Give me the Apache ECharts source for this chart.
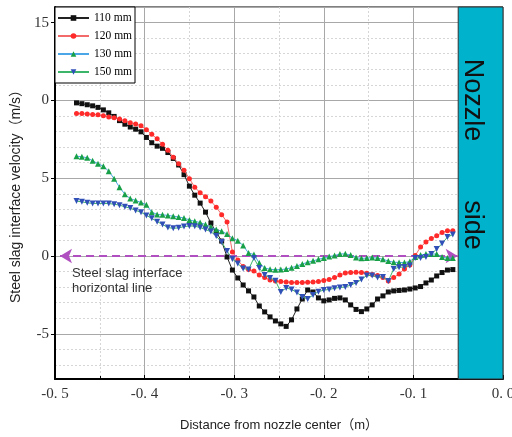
<!DOCTYPE html>
<html>
<head>
<meta charset="utf-8">
<script src="https://cdn.jsdelivr.net/npm/echarts@6/dist/echarts.min.js"></script>
<style>
  html, body { margin: 0; padding: 0; background: #fff; }
  #chart { width: 512px; height: 437px; }
</style>
</head>
<body>
<div id="chart"></div>
<script>
// Sampling positions along the interface (m, negative = away from nozzle)
const distance = [
  -0.476, -0.470, -0.464, -0.458, -0.452, -0.446, -0.440, -0.434, -0.428, -0.422,
  -0.416, -0.410, -0.404, -0.398, -0.392, -0.386, -0.380, -0.374, -0.368, -0.362,
  -0.356, -0.350, -0.344, -0.338, -0.332, -0.326, -0.320, -0.314, -0.308, -0.302,
  -0.296, -0.290, -0.284, -0.278, -0.272, -0.266, -0.260, -0.254, -0.248, -0.242,
  -0.236, -0.230, -0.224, -0.218, -0.212, -0.206, -0.200, -0.194, -0.188, -0.182,
  -0.176, -0.170, -0.164, -0.158, -0.152, -0.146, -0.140, -0.134, -0.128, -0.122,
  -0.116, -0.110, -0.104, -0.098, -0.092, -0.086, -0.080, -0.074, -0.068, -0.062,
  -0.056
];

// Interface velocity (m/s) for each immersion depth
const v110 = [
  9.84, 9.79, 9.72, 9.65, 9.55, 9.39, 9.2, 8.97, 8.7, 8.47,
  8.29, 8.15, 7.98, 7.62, 7.28, 7.06, 6.92, 6.65, 6.27, 5.85,
  5.23, 4.49, 3.91, 3.4, 2.82, 2.12, 1.54, 0.96, -0.06, -0.9,
  -1.41, -1.86, -2.24, -2.63, -3.21, -3.59, -3.91, -4.17, -4.36, -4.52,
  -4.1, -3.4, -2.76, -2.18, -2.31, -2.69, -2.88, -2.82, -2.72, -2.69,
  -2.82, -3.14, -3.43, -3.57, -3.4, -3.14, -2.76, -2.56, -2.31, -2.24,
  -2.21, -2.18, -2.12, -2.05, -1.96, -1.73, -1.54, -1.28, -1.06, -0.9,
  -0.87
];
const v120 = [
  9.15, 9.15, 9.12, 9.1, 9.07, 9.01, 8.94, 8.88, 8.8, 8.69,
  8.56, 8.49, 8.37, 8.11, 7.82, 7.53, 7.18, 6.79, 6.35, 5.93,
  5.51, 4.97, 4.42, 4.07, 3.81, 3.53, 3.14, 2.66, 2.18, 0.26,
  -0.26, -0.67, -0.87, -0.96, -1.22, -1.38, -1.54, -1.6, -1.63, -1.67,
  -1.7, -1.7, -1.7, -1.69, -1.67, -1.63, -1.57, -1.51, -1.38, -1.22,
  -1.09, -1.06, -1.04, -1.06, -1.11, -1.19, -1.25, -1.38, -1.6, -1.38,
  -1.15, -0.83, -0.58, 0.03, 0.58, 0.9, 1.12, 1.31, 1.51, 1.63,
  1.63
];
const v130 = [
  6.41, 6.38, 6.31, 6.12, 5.93, 5.77, 5.45, 4.97, 4.42, 3.97,
  3.69, 3.57, 3.44, 3.3, 2.82, 2.67, 2.65, 2.61, 2.56, 2.51,
  2.44, 2.32, 2.23, 2.15, 2.02, 1.86, 1.7, 1.6, 1.41, 1.15,
  0.99, 0.67, 0.19, 0.1, -0.45, -0.77, -0.85, -0.88, -0.87, -0.83,
  -0.75, -0.64, -0.51, -0.4, -0.31, -0.21, -0.13, -0.03, 0.03, 0.13,
  0.14, 0.06, -0.1, -0.15, -0.13, -0.1, -0.13, -0.21, -0.32, -0.4,
  -0.41, -0.42, -0.35, -0.06, 0.06, 0.13, 0.13, 0.13, -0.06, -0.13,
  -0.13
];
const v150 = [
  3.53, 3.48, 3.42, 3.38, 3.38, 3.38, 3.37, 3.33, 3.27, 3.16,
  3.08, 2.93, 2.82, 2.61, 2.42, 2.21, 2.03, 1.83, 1.78, 1.81,
  1.89, 1.93, 1.92, 1.83, 1.7, 1.57, 1.28, 0.9, 0.32, -0.19,
  -0.48, -0.8, -0.87, -0.13, -0.77, -1.22, -1.41, -1.58, -2.31, -2.05,
  -2.15, -2.34, -2.63, -2.76, -2.5, -2.29, -2.19, -2.15, -2.07, -2.02,
  -1.99, -1.86, -1.73, -1.51, -1.25, -1.25, -1.38, -1.35, -1.6, -0.83,
  -0.72, -0.71, -0.61, -0.13, -0.13, -0.06, 0.13, 0.45, 0.8, 1.22,
  1.38
];

const seriesNames = ['110 mm', '120 mm', '130 mm', '150 mm'];

// Axis tick labels
const xTickValues = [-0.5, -0.4, -0.3, -0.2, -0.1, 0.0];
const xTickLabels = ['-0. 5', '-0. 4', '-0. 3', '-0. 2', '-0. 1', '0. 0'];
const yTickValues = [-5, 0, 5, 10, 15];
const yTickLabels = ['-5', '0', '5', '0', '15'];

// Interface reference line and nozzle zone
const interfaceLevel = 0;
const interfaceStart = -0.4944;
const interfaceEnd = -0.0506;
const nozzleZone = [-0.05, 0];

const pairs = vals => distance.map((d, i) => [d, vals[i]]);

const tickFont = '"Liberation Serif", "DejaVu Serif", serif';
const sansFont = '"Liberation Sans", Arial, "Noto Sans CJK SC", sans-serif';

function lookup(values, labels, v, eps) {
  for (let i = 0; i < values.length; i++) {
    if (Math.abs(values[i] - v) < eps) return labels[i];
  }
  return '';
}

const chart = echarts.init(document.getElementById('chart'), null, { renderer: 'canvas' });

const styles = [
  { line: '#222222', mark: '#111111', symbol: 'rect', size: 5 },
  { line: '#f26a6a', mark: '#ff2a2a', symbol: 'circle', size: 5 },
  { line: '#4aa6e6', mark: '#18a048', symbol: 'triangle', size: 6 },
  { line: '#3cb46a', mark: '#3050b8', symbol: 'path://M0,0 L10,0 L5,9 Z', size: 6 }
];
const values = [v110, v120, v130, v150];

const series = values.map((vals, k) => ({
  name: seriesNames[k],
  type: 'line',
  data: pairs(vals),
  symbol: styles[k].symbol,
  symbolSize: styles[k].size,
  showSymbol: true,
  lineStyle: { color: styles[k].line, width: 1 },
  itemStyle: { color: styles[k].mark },
  z: 3 + k
}));

series[0].markArea = {
  silent: true,
  itemStyle: { color: '#00b2cc', borderColor: '#333', borderWidth: 1 },
  data: [[{ xAxis: nozzleZone[0] }, { xAxis: nozzleZone[1] }]]
};
series[0].markLine = {
  silent: true,
  symbol: ['arrow', 'arrow'],
  symbolSize: [11, 12],
  label: { show: false },
  lineStyle: { color: '#b04fbf', width: 2, type: [8, 5] },
  data: [[
    { coord: [interfaceStart, interfaceLevel] },
    { coord: [interfaceEnd, interfaceLevel] }
  ]]
};

const option = {
  animation: false,
  backgroundColor: '#ffffff',
  grid: {
    left: 55, right: 9, top: 7, bottom: 58,
    show: true, borderColor: '#000', borderWidth: 1,
    outerBoundsMode: 'none'
  },
  legend: {
    data: seriesNames,
    orient: 'vertical',
    left: 55, top: 7,
    padding: [5, 3, 5, 2],
    itemWidth: 31, itemHeight: 7, itemGap: 6,
    backgroundColor: '#fff',
    borderColor: '#000', borderWidth: 1,
    textStyle: { fontFamily: tickFont, fontSize: 11.5, color: '#000', lineHeight: 12 }
  },
  xAxis: {
    type: 'value',
    min: -0.5, max: 0, interval: 0.1,
    name: 'Distance from nozzle center（m）',
    nameLocation: 'middle',
    nameGap: 40,
    nameTextStyle: { fontFamily: sansFont, fontSize: 13, color: '#222' },
    axisLine: { show: true, onZero: false, lineStyle: { color: '#000', width: 2 } },
    axisTick: { show: true, inside: true, length: 4, lineStyle: { color: '#000' } },
    minorTick: { show: true, splitNumber: 2, length: 3, lineStyle: { color: '#000' } },
    axisLabel: {
      margin: 8, fontFamily: tickFont, fontSize: 15, color: '#333',
      formatter: v => lookup(xTickValues, xTickLabels, v, 1e-6)
    },
    splitLine: { show: true, lineStyle: { color: '#a8a8a8', width: 1 } },
    minorSplitLine: { show: true, lineStyle: { color: '#d6d6d6', width: 1, type: [2, 2] } }
  },
  yAxis: {
    type: 'value',
    min: -7.9, max: 16,
    name: 'Steel slag interface velocity（m/s）',
    nameLocation: 'middle',
    nameGap: 29,
    nameTextStyle: { fontFamily: sansFont, fontSize: 14, color: '#222' },
    axisLine: { show: true, onZero: false, lineStyle: { color: '#000', width: 2 } },
    axisTick: { show: true, inside: false, length: 4, lineStyle: { color: '#000' } },
    minorTick: { show: false },
    axisLabel: {
      margin: 6, fontFamily: tickFont, fontSize: 15, color: '#333',
      showMinLabel: false, showMaxLabel: false,
      formatter: v => lookup(yTickValues, yTickLabels, v, 1e-6)
    },
    splitLine: { show: true, lineStyle: { color: '#a8a8a8', width: 1 } },
    minorSplitLine: { show: true, lineStyle: { color: '#d6d6d6', width: 1, type: [2, 2] } }
  },
  graphic: [
    {
      type: 'text', x: 72, y: 266, z: 20, silent: true,
      style: {
        text: 'Steel slag interface\nhorizontal line',
        font: '13px ' + sansFont, fill: '#333', lineHeight: 15
      }
    },
    {
      type: 'text', x: 472, y: 100, rotation: -Math.PI / 2, z: 20, silent: true,
      style: { text: 'Nozzle', font: '27px ' + sansFont, fill: '#111', align: 'center', verticalAlign: 'middle' }
    },
    {
      type: 'text', x: 472, y: 225, rotation: -Math.PI / 2, z: 20, silent: true,
      style: { text: 'side', font: '27px ' + sansFont, fill: '#111', align: 'center', verticalAlign: 'middle' }
    }
  ],
  series: series
};

chart.setOption(option);
</script>
</body>
</html>
